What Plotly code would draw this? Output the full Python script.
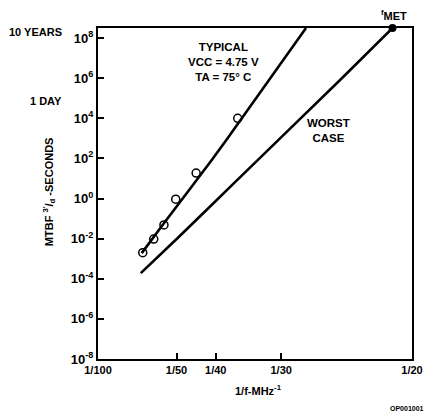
import plotly.graph_objects as go

# --- Data ---
# x axis is 1/f in MHz^-1, y axis is MTBF in seconds (log)
TYP_MEAS_X = [0.0157, 0.0171, 0.0184, 0.0199, 0.0225, 0.0278]
TYP_MEAS_Y = [2.0e-3, 9.5e-3, 4.8e-2, 0.93, 18.6, 1.0e4]

TYP_CURVE_X = [0.01557, 0.01842, 0.02449, 0.02635, 0.03650]
TYP_CURVE_Y = [1.9e-3, 6.0e-2, 83, 830, 3.16e8]

WORST_CURVE_X = [0.01545, 0.02015, 0.02759, 0.04084, 0.04752]
WORST_CURVE_Y = [1.9e-4, 1.07e-2, 7.4, 8.1e5, 3.16e8]

FMET_X = [0.04752]
FMET_Y = [3.16e8]

X_TICKS = [1 / 100, 1 / 50, 1 / 40, 1 / 30, 1 / 20]
X_TICK_TEXT = ["1/100", "1/50", "1/40", "1/30", "1/20"]
Y_EXPONENTS = [-8, -6, -4, -2, 0, 2, 4, 6, 8]

FONT = "Liberation Sans, Arial, sans-serif"

fig = go.Figure()

fig.add_trace(go.Scatter(
    x=TYP_CURVE_X, y=TYP_CURVE_Y, mode="lines",
    line=dict(color="black", width=2.6, shape="spline", smoothing=0.5),
    cliponaxis=False,
))
fig.add_trace(go.Scatter(
    x=WORST_CURVE_X, y=WORST_CURVE_Y, mode="lines",
    line=dict(color="black", width=2.6, shape="spline", smoothing=0.5),
    cliponaxis=False,
))
fig.add_trace(go.Scatter(
    x=TYP_MEAS_X, y=TYP_MEAS_Y, mode="markers",
    marker=dict(symbol="circle-open", size=8, color="black", line=dict(width=1.5)),
))
fig.add_trace(go.Scatter(
    x=FMET_X, y=FMET_Y, mode="markers",
    marker=dict(symbol="circle", size=8, color="black"),
    cliponaxis=False,
))

fig.update_xaxes(
    range=[0.01, 0.05],
    tickvals=X_TICKS, ticktext=X_TICK_TEXT,
    ticks="inside", ticklen=6, tickwidth=1.5, tickcolor="black",
    showline=True, linecolor="black", linewidth=2, mirror=True,
    showgrid=False, zeroline=False,
    tickfont=dict(family=FONT, size=11, color="black", weight="bold"),
)
fig.update_yaxes(
    type="log", range=[-8, 8.5],
    tickvals=[10.0 ** e for e in Y_EXPONENTS],
    ticktext=[f"10<sup>{e}</sup>" for e in Y_EXPONENTS],
    ticks="inside", ticklen=6, tickwidth=1.5, tickcolor="black",
    showline=True, linecolor="black", linewidth=2, mirror=True,
    showgrid=False, zeroline=False,
    tickfont=dict(family=FONT, size=13, color="black", weight="bold"),
)

def label(text, x, y, size=11, xanchor="center", angle=0):
    fig.add_annotation(
        text=text, x=x, y=y, xref="paper", yref="paper",
        xanchor=xanchor, yanchor="middle", showarrow=False, textangle=angle,
        font=dict(family=FONT, size=size, color="black", weight="bold"),
    )

label("10 YEARS", -0.108, 0.988, size=11, xanchor="right")
label("1 DAY", -0.108, 0.779, size=11, xanchor="right")
label("TYPICAL<br>VCC = 4.75 V<br>TA = 75° C", 0.399, 0.897, size=11.5)
label("WORST<br>CASE", 0.734, 0.689, size=11.5)
label("<sup>f</sup>MET", 0.944, 1.039, size=11)
label("1/f-MHz<sup>-1</sup>", 0.511, -0.094, size=11)
label("OP001001", 0.985, -0.151, size=7)
label("MTBF <sup>3'</sup>/<sub>d</sub> -SECONDS", -0.155, 0.505, size=11, angle=-90)

# page body has an 8px default margin, so the figure is trimmed to fit
fig.update_layout(
    width=427, height=405,
    margin=dict(l=90, r=14, t=20, b=54),
    paper_bgcolor="white", plot_bgcolor="white",
    showlegend=False,
)

fig.write_html("out.html")
